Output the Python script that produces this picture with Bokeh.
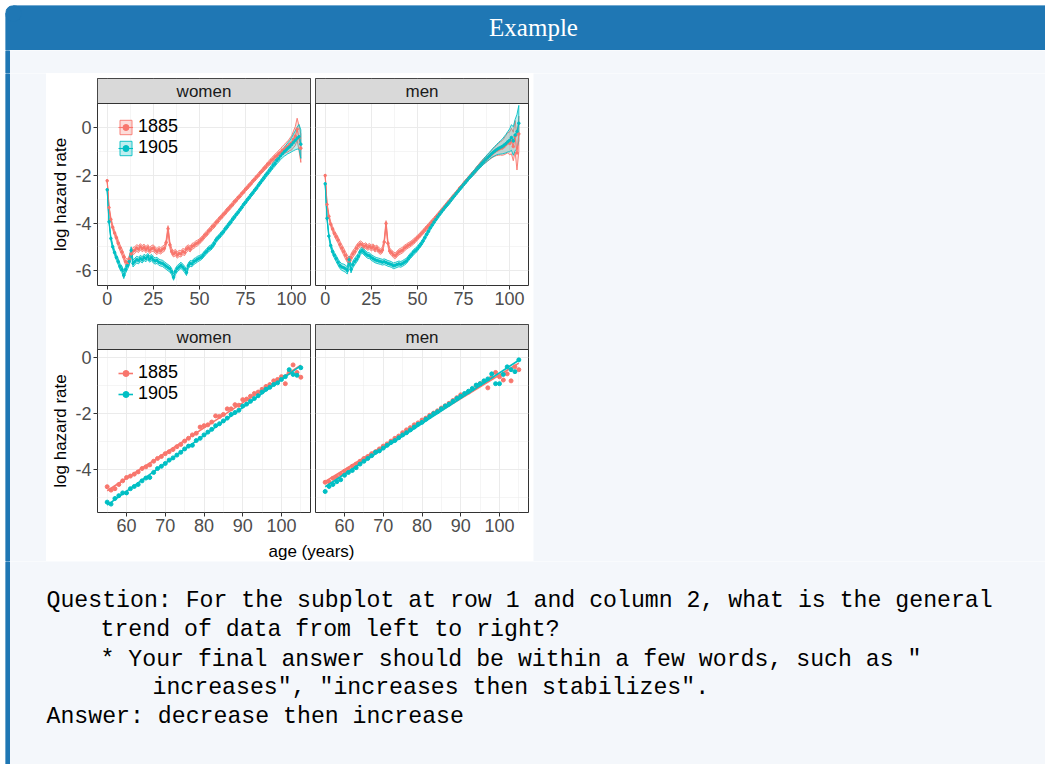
import math
import numpy as np
from bokeh.plotting import figure
from bokeh.layouts import column, row
from bokeh.models import Range1d, FixedTicker, Legend, LegendItem, PrintfTickFormatter
from bokeh.core.properties import value
from bokeh.embed import file_html
from bokeh.resources import INLINE

# ---------------- data ----------------
cohorts = ["1885", "1905"]
panel_labels = ["women", "men"]

ages_all = list(range(0, 106))
women_1885 = [-2.22, -3.35, -3.85, -4.18, -4.42, -4.62, -4.85, -5.05, -5.22, -5.42,
              -5.62, -5.68, -5.52, -5.30, -5.18, -5.14, -5.05, -5.10, -5.00, -5.08,
              -5.02, -5.12, -5.04, -5.15, -5.08, -5.05, -5.14, -5.20, -5.12, -5.18,
              -5.10, -5.06, -4.82, -4.24, -4.92, -5.20, -5.30, -5.24, -5.35, -5.28,
              -5.30, -5.20, -5.24, -5.10, -5.04, -5.10, -4.98, -4.95, -4.88, -4.84,
              -4.78, -4.70, -4.62, -4.51, -4.45, -4.34, -4.27, -4.16, -4.10, -3.99,
              -3.92, -3.81, -3.74, -3.64, -3.57, -3.46, -3.39, -3.29, -3.22, -3.11,
              -3.04, -2.93, -2.87, -2.76, -2.69, -2.58, -2.51, -2.41, -2.34, -2.23,
              -2.16, -2.06, -1.99, -1.88, -1.81, -1.71, -1.64, -1.53, -1.47, -1.37,
              -1.31, -1.22, -1.17, -1.08, -1.03, -0.94, -0.90, -0.82, -0.78, -0.69,
              -0.63, -0.48, -0.34, -0.05, -0.42, -0.85]
women_1905 = [-2.60, -3.95, -4.65, -5.00, -5.24, -5.45, -5.63, -5.84, -5.95, -6.20,
              -5.96, -5.80, -5.62, -5.15, -5.70, -5.62, -5.54, -5.58, -5.49, -5.55,
              -5.45, -5.50, -5.41, -5.52, -5.45, -5.55, -5.60, -5.57, -5.65, -5.68,
              -5.70, -5.76, -5.82, -5.88, -5.93, -6.05, -6.28, -6.04, -5.92, -5.85,
              -5.78, -5.86, -5.95, -6.08, -5.80, -5.70, -5.72, -5.62, -5.58, -5.52,
              -5.48, -5.44, -5.36, -5.26, -5.19, -5.09, -5.05, -4.97, -4.86, -4.72,
              -4.63, -4.55, -4.45, -4.37, -4.25, -4.16, -4.05, -3.96, -3.84, -3.75,
              -3.64, -3.55, -3.44, -3.34, -3.22, -3.13, -3.02, -2.93, -2.82, -2.73,
              -2.62, -2.53, -2.41, -2.31, -2.20, -2.10, -1.99, -1.90, -1.79, -1.69,
              -1.58, -1.49, -1.38, -1.29, -1.18, -1.09, -1.00, -0.93, -0.85, -0.79,
              -0.70, -0.61, -0.52, -0.43, -0.37, -0.68]
men_1885 = [-2.00, -3.22, -3.72, -4.05, -4.25, -4.44, -4.58, -4.72, -4.90, -5.05,
            -5.20, -5.36, -5.50, -5.60, -5.45, -5.30, -5.20, -5.06, -4.95, -4.88,
            -4.92, -5.00, -4.95, -5.03, -4.98, -5.05, -5.00, -5.10, -5.05, -5.15,
            -5.20, -5.14, -4.80, -4.02, -4.85, -5.18, -5.25, -5.34, -5.38, -5.30,
            -5.22, -5.18, -5.14, -5.05, -5.00, -4.94, -4.90, -4.84, -4.78, -4.70,
            -4.62, -4.55, -4.46, -4.38, -4.29, -4.20, -4.12, -4.03, -3.94, -3.86,
            -3.76, -3.67, -3.58, -3.48, -3.39, -3.30, -3.20, -3.11, -3.02, -2.92,
            -2.83, -2.74, -2.64, -2.53, -2.46, -2.36, -2.27, -2.18, -2.09, -2.00,
            -1.92, -1.85, -1.74, -1.65, -1.56, -1.48, -1.40, -1.33, -1.26, -1.19,
            -1.12, -1.05, -0.99, -0.94, -0.90, -0.86, -0.84, -0.78, -0.70, -0.62,
            -0.65, -0.55, -0.78, -0.35, -1.05, -0.25]
men_1905 = [-2.35, -3.80, -4.55, -4.95, -5.20, -5.36, -5.50, -5.65, -5.78, -5.85,
            -5.88, -5.92, -6.00, -5.55, -5.95, -5.75, -5.62, -5.52, -5.40, -5.22,
            -5.15, -5.22, -5.30, -5.36, -5.38, -5.45, -5.50, -5.55, -5.58, -5.60,
            -5.62, -5.65, -5.63, -5.66, -5.70, -5.72, -5.75, -5.80, -5.78, -5.75,
            -5.72, -5.74, -5.70, -5.65, -5.60, -5.50, -5.40, -5.32, -5.22, -5.16,
            -5.08, -4.98, -4.88, -4.76, -4.62, -4.48, -4.35, -4.20, -4.08, -3.96,
            -3.85, -3.74, -3.63, -3.53, -3.43, -3.33, -3.24, -3.15, -3.05, -2.95,
            -2.86, -2.76, -2.67, -2.57, -2.48, -2.38, -2.29, -2.20, -2.10, -2.02,
            -1.93, -1.84, -1.75, -1.66, -1.58, -1.49, -1.41, -1.33, -1.25, -1.18,
            -1.10, -1.03, -0.97, -0.91, -0.86, -0.82, -0.78, -0.72, -0.66, -0.58,
            -0.52, -0.40, -0.55, -0.30, -0.15, 0.20]
# half-width of the confidence ribbons
band_women = [0.05, 0.07, 0.09, 0.10, 0.11, 0.12, 0.13, 0.13, 0.14, 0.14,
              0.15, 0.15, 0.15, 0.15, 0.15, 0.14, 0.14, 0.14, 0.13, 0.13,
              0.13, 0.13, 0.13, 0.13, 0.13, 0.13, 0.13, 0.13, 0.13, 0.13,
              0.13, 0.13, 0.13, 0.13, 0.13, 0.13, 0.13, 0.13, 0.13, 0.13,
              0.13, 0.13, 0.13, 0.13, 0.12, 0.12, 0.12, 0.12, 0.12, 0.12,
              0.11, 0.11, 0.11, 0.11, 0.11, 0.11, 0.11, 0.11, 0.11, 0.11,
              0.10, 0.10, 0.10, 0.10, 0.10, 0.10, 0.10, 0.10, 0.10, 0.10,
              0.09, 0.09, 0.09, 0.09, 0.09, 0.09, 0.09, 0.09, 0.09, 0.09,
              0.09, 0.09, 0.09, 0.09, 0.09, 0.10, 0.10, 0.10, 0.11, 0.11,
              0.12, 0.12, 0.13, 0.14, 0.15, 0.17, 0.19, 0.21, 0.23, 0.26,
              0.30, 0.35, 0.40, 0.46, 0.52, 0.60]
band_men = [0.05, 0.07, 0.09, 0.10, 0.11, 0.12, 0.13, 0.13, 0.14, 0.14,
            0.15, 0.15, 0.15, 0.15, 0.15, 0.14, 0.14, 0.14, 0.13, 0.13,
            0.12, 0.12, 0.12, 0.12, 0.12, 0.12, 0.12, 0.12, 0.12, 0.12,
            0.12, 0.12, 0.12, 0.12, 0.12, 0.12, 0.12, 0.12, 0.12, 0.12,
            0.12, 0.12, 0.12, 0.12, 0.11, 0.11, 0.11, 0.11, 0.11, 0.11,
            0.10, 0.10, 0.10, 0.10, 0.10, 0.10, 0.10, 0.10, 0.10, 0.10,
            0.09, 0.09, 0.09, 0.09, 0.09, 0.09, 0.09, 0.09, 0.09, 0.09,
            0.08, 0.08, 0.08, 0.08, 0.08, 0.08, 0.08, 0.08, 0.08, 0.08,
            0.09, 0.09, 0.10, 0.10, 0.11, 0.11, 0.12, 0.13, 0.14, 0.15,
            0.16, 0.18, 0.20, 0.22, 0.25, 0.28, 0.31, 0.35, 0.39, 0.43,
            0.48, 0.54, 0.60, 0.66, 0.72, 0.75]

ages_old = list(range(55, 106))
women_old_1885 = [-4.63, -4.75, -4.70, -4.55, -4.42, -4.30, -4.25, -4.18, -4.10, -3.98,
                  -3.92, -3.85, -3.72, -3.62, -3.55, -3.45, -3.38, -3.30, -3.20, -3.12,
                  -3.00, -2.90, -2.78, -2.72, -2.50, -2.45, -2.42, -2.32, -2.10, -2.12,
                  -2.05, -1.85, -1.85, -1.70, -1.72, -1.52, -1.50, -1.40, -1.30, -1.25,
                  -1.15, -1.05, -0.98, -0.85, -0.80, -0.70, -0.95, -0.55, -0.28, -0.55,
                  -0.72]
women_old_1905 = [-5.18, -5.25, -5.05, -4.95, -4.85, -4.85, -4.70, -4.62, -4.55, -4.42,
                  -4.32, -4.30, -4.12, -3.98, -3.90, -3.80, -3.68, -3.60, -3.50, -3.40,
                  -3.28, -3.18, -3.15, -2.98, -2.90, -2.78, -2.68, -2.58, -2.45, -2.38,
                  -2.28, -2.18, -2.05, -1.98, -1.90, -1.75, -1.68, -1.58, -1.48, -1.38,
                  -1.25, -1.15, -1.08, -0.98, -0.92, -0.80, -0.70, -0.45, -0.62, -0.65,
                  -0.38]
men_old_1885 = [-4.47, -4.45, -4.33, -4.28, -4.18, -4.08, -4.00, -3.90, -3.82, -3.72,
                -3.62, -3.55, -3.45, -3.38, -3.28, -3.18, -3.10, -3.00, -2.90, -2.82,
                -2.70, -2.60, -2.52, -2.42, -2.35, -2.25, -2.18, -2.08, -2.00, -1.92,
                -1.82, -1.74, -1.65, -1.55, -1.45, -1.35, -1.32, -1.25, -1.15, -1.02,
                -0.95, -0.88, -1.10, -0.72, -0.55, -0.70, -0.82, -0.60, -0.85, -0.35,
                -0.45]
men_old_1905 = [-4.80, -4.62, -4.55, -4.45, -4.38, -4.22, -4.12, -4.05, -3.95, -3.82,
                -3.72, -3.62, -3.52, -3.40, -3.35, -3.25, -3.15, -3.05, -2.98, -2.88,
                -2.78, -2.70, -2.60, -2.50, -2.40, -2.33, -2.22, -2.12, -2.02, -1.95,
                -1.85, -1.75, -1.68, -1.58, -1.48, -1.40, -1.30, -1.22, -1.12, -1.00,
                -0.95, -0.85, -0.78, -0.60, -0.95, -0.95, -0.62, -0.35, -0.45, -0.52,
                -0.10]

x_ticks_all = [0, 25, 50, 75, 100]
x_minor_all = [12.5, 37.5, 62.5, 87.5]
x_ticks_old = [60, 70, 80, 90, 100]
x_minor_old = [55, 65, 75, 85, 95, 105]
y_ticks_all = [-6, -4, -2, 0]
y_minor_all = [-5, -3, -1]
y_ticks_old = [-4, -2, 0]
y_minor_old = [-5, -3, -1]

box_title = "Example"
question_lines = [
    "Question: For the subplot at row 1 and column 2, what is the general",
    "trend of data from left to right?",
    "* Your final answer should be within a few words, such as \"",
    "increases\", \"increases then stabilizes\".",
    "Answer: decrease then increase",
]

# ---------------- styling ----------------
FONT = "Liberation Sans"
MONO = "Liberation Mono"
SERIF = "Liberation Serif"
RED, TEAL = "#F8766D", "#00BFC4"
COLORS = [RED, TEAL]
BLUE = "#1f77b4"
BODY = "#f4f7fb"
STRIP = 25


def plain(w, h, bg):
    p = figure(width=w, height=h, x_range=Range1d(0, w), y_range=Range1d(0, h),
               toolbar_location=None, output_backend="svg",
               x_axis_type=None, y_axis_type=None,
               min_border_left=0, min_border_right=0, min_border_top=0, min_border_bottom=0,
               background_fill_color=bg, border_fill_color=bg, outline_line_color=None)
    return p


def stripe(p, h):
    p.quad(left=[0], right=[4], bottom=[0], top=[h], color=BLUE)


def panel(w, h, mbl, mbr, mbt, mbb, xr, yr, label, xt, xm, yt, ym, show_y):
    frame_h = h - mbt - mbb
    ext = (yr[1] - yr[0]) * STRIP / (frame_h - STRIP)
    p = figure(width=w, height=h, x_range=Range1d(*xr), y_range=Range1d(yr[0], yr[1] + ext),
               toolbar_location=None, output_backend="svg",
               min_border_left=mbl, min_border_right=mbr, min_border_top=mbt, min_border_bottom=mbb,
               background_fill_color="white", border_fill_color="white",
               outline_line_color="#333333", outline_line_width=1)
    p.xaxis.ticker = FixedTicker(ticks=xt, minor_ticks=xm)
    p.yaxis.ticker = FixedTicker(ticks=yt, minor_ticks=ym)
    p.yaxis.formatter = PrintfTickFormatter(format="%d")
    for ax in p.axis:
        ax.axis_line_color = None
        ax.major_tick_line_color = "#333333"
        ax.major_tick_out = 4
        ax.major_tick_in = 0
        ax.minor_tick_out = 0
        ax.minor_tick_in = 0
        ax.major_label_text_font = FONT
        ax.major_label_text_font_size = "18px"
        ax.major_label_text_color = "#4d4d4d"
        ax.major_label_standoff = 2
    for g in p.grid:
        g.grid_line_color = "#ebebeb"
        g.grid_line_width = 1
        g.minor_grid_line_color = "#ebebeb"
        g.minor_grid_line_width = 0.5
    if not show_y:
        p.yaxis.visible = False
    p.quad(left=[xr[0]], right=[xr[1]], bottom=[yr[1]], top=[yr[1] + ext],
           fill_color="#d9d9d9", line_color="#333333", line_width=1)
    p.text(x=[(xr[0] + xr[1]) / 2], y=[yr[1] + ext / 2], text=[label],
           text_font=value(FONT), text_font_size="17px", text_color="#1a1a1a",
           text_align="center", text_baseline="middle")
    return p


def draw_top(p, ages, series, band):
    patches, lines, pts = [], [], []
    for ys, col in zip(series, COLORS):
        lo = [a - b for a, b in zip(ys, band)]
        hi = [a + b for a, b in zip(ys, band)]
        patches.append(p.patch(ages + ages[::-1], hi + lo[::-1], fill_color=col, fill_alpha=0.25,
                               line_color=col, line_width=0.9))
    for ys, col in zip(series, COLORS):
        lines.append(p.line(ages, ys, line_color=col, line_width=1.1))
    for ys, col in zip(series, COLORS):
        pts.append(p.scatter(ages, ys, size=2.5, color=col))
    return [[patches[i], lines[i], pts[i]] for i in range(2)]


def draw_old(p, ages, series):
    out = []
    for ys, col in zip(series, COLORS):
        k = np.polyfit(ages, ys, 1)
        xs = [ages[0], ages[-1]]
        ln = p.line(xs, list(np.polyval(k, xs)), line_color=col, line_width=1.6)
        sc = p.scatter(ages, ys, size=4, color=col)
        out.append([ln, sc])
    return out


def add_legend(p, groups, loc):
    items = [LegendItem(label=value(c), renderers=g) for c, g in zip(cohorts, groups)]
    lg = Legend(items=items, location=loc, orientation="vertical",
                glyph_width=15, glyph_height=18, label_height=18, spacing=0,
                padding=0, margin=0, label_standoff=5,
                background_fill_alpha=0, border_line_alpha=0,
                label_text_font=FONT, label_text_font_size="18px", label_text_color="black")
    p.add_layout(lg)


XR_ALL = (-5.25, 110.25)
YR_ALL = (-6.63, 1.03)
XR_OLD = (52.5, 107.5)
YR_OLD = (-5.55, 0.27)

# top row
wt = panel(242, 239, 27, 2, 5, 27, XR_ALL, YR_ALL, panel_labels[0],
           x_ticks_all, x_minor_all, y_ticks_all, y_minor_all, True)
g = draw_top(wt, ages_all, [women_1885, women_1905], band_women)
add_legend(wt, g, (21, 127))
mt = panel(221, 239, 3, 5, 5, 27, XR_ALL, YR_ALL, panel_labels[1],
           x_ticks_all, x_minor_all, y_ticks_all, y_minor_all, False)
draw_top(mt, ages_all, [men_1885, men_1905], band_men)

# bottom row
wb = panel(242, 226, 27, 2, 12, 26, XR_OLD, YR_OLD, panel_labels[0],
           x_ticks_old, x_minor_old, y_ticks_old, y_minor_old, True)
g = draw_old(wb, ages_old, [women_old_1885, women_old_1905])
add_legend(wb, g, (21, 108))
mb = panel(221, 226, 3, 5, 12, 26, XR_OLD, YR_OLD, panel_labels[1],
           x_ticks_old, x_minor_old, y_ticks_old, y_minor_old, False)
draw_old(mb, ages_old, [men_old_1885, men_old_1905])

# y-axis titles strip
ylab = plain(24, 465, "white")
ylab.text(x=[14, 14], y=[465 - 121, 465 - 357.5], text=["log hazard rate", "log hazard rate"],
          angle=math.pi / 2, text_font=value(FONT), text_font_size="17px", text_color="black",
          text_align="center", text_baseline="middle")

# x-axis title
xlab = plain(487, 23, "white")
xlab.text(x=[265], y=[23 - 13], text=["age (years)"], text_font=value(FONT),
          text_font_size="17px", text_color="black", text_align="center",
          text_baseline="alphabetic")

chart = column(row(ylab, column(row(wt, mt, spacing=0), row(wb, mb, spacing=0), spacing=0), spacing=0),
               xlab, spacing=0)

# frame pieces (page origin at 0,0; frame starts at 5,5)
FW = 1040
header = plain(FW, 45, "white")
header.quad(left=[8], right=[FW], bottom=[0], top=[45], color=BLUE)
header.quad(left=[0], right=[8], bottom=[0], top=[37], color=BLUE)
header.circle(x=[8], y=[37], radius=8, color=BLUE)
header.text(x=[528], y=[45 - 22], text=[box_title], text_font=value(SERIF),
            text_font_size="25px", text_color="white", text_align="center",
            text_baseline="middle")

gap = plain(FW, 23, BODY)
stripe(gap, 23)

left = plain(41, 488, BODY)
stripe(left, 488)
right = plain(FW - 41 - 487, 488, BODY)

BH = 203
bottom = plain(FW, BH, BODY)
stripe(bottom, BH)
q_x = [41, 95, 95, 147, 41]
q_y = [39, 68, 98, 126, 155]
bottom.text(x=q_x, y=[BH - v for v in q_y], text=question_lines, text_font=value(MONO),
            text_font_size="23.2px", text_color="black", text_align="left",
            text_baseline="middle")

frame = column(header, gap, row(left, chart, right, spacing=0), bottom, spacing=0)

top_pad = plain(FW + 5, 5, "white")
left_pad = plain(5, 45 + 23 + 488 + BH, "white")
layout = column(top_pad, row(left_pad, frame, spacing=0), spacing=0)

with open("out.html", "w") as f:
    f.write(file_html(layout, INLINE))
